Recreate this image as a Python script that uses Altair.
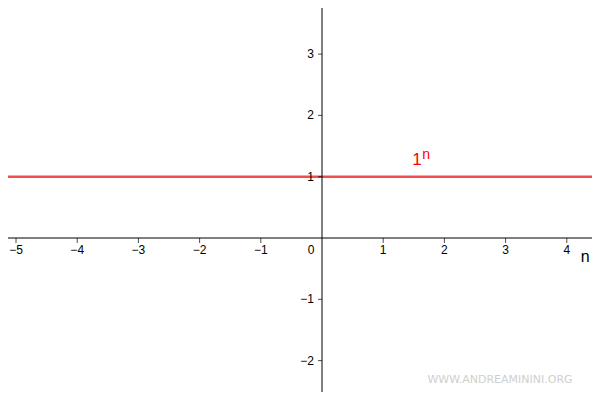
import altair as alt
import pandas as pd

# data
x_ticks = [-5, -4, -3, -2, -1, 1, 2, 3, 4]
y_ticks = [-2, -1, 1, 2, 3]
n_vals = [-6, -5, -4, -3, -2, -1, 0, 1, 2, 3, 4, 5]
f_vals = [1, 1, 1, 1, 1, 1, 1, 1, 1, 1, 1, 1]

x_dom = [-5.131, 4.412]
y_dom = [-2.512, 3.752]

FONT = "Liberation Sans"
xs = alt.Scale(domain=x_dom, nice=False, zero=False)
ys = alt.Scale(domain=y_dom, nice=False, zero=False)

def X(f="x"):
    return alt.X(f"{f}:Q", scale=xs, axis=None)

def Y(f="y"):
    return alt.Y(f"{f}:Q", scale=ys, axis=None)

xt = pd.DataFrame({"x": x_ticks, "y": [0] * len(x_ticks),
                   "lab": [("\u2212" + str(-v)) if v < 0 else str(v) for v in x_ticks]})
yt = pd.DataFrame({"y": y_ticks, "x": [0] * len(y_ticks),
                   "lab": [("\u2212" + str(-v)) if v < 0 else str(v) for v in y_ticks]})
fn = pd.DataFrame({"x": n_vals, "y": f_vals})
origin = pd.DataFrame({"x": [0], "y": [0], "lab": ["0"]})

x_axis = alt.Chart(origin).mark_rule(color="black", strokeWidth=1).encode(y=Y())
y_axis = alt.Chart(origin).mark_rule(color="black", strokeWidth=1).encode(x=X())

x_tk = alt.Chart(xt).mark_tick(orient="vertical", size=5, thickness=1, color="black", yOffset=2.5).encode(x=X(), y=Y())
y_tk = alt.Chart(yt).mark_tick(orient="horizontal", size=4, thickness=1, color="black", xOffset=-2).encode(x=X(), y=Y())

x_lab = alt.Chart(xt).mark_text(font=FONT, fontSize=12, color="black", dy=12, align="center", baseline="middle").encode(x=X(), y=Y(), text="lab:N")
y_lab = alt.Chart(yt).mark_text(font=FONT, fontSize=12, color="black", dx=-8, align="right", baseline="middle").encode(x=X(), y=Y(), text="lab:N")
o_lab = alt.Chart(origin).mark_text(font=FONT, fontSize=12, color="black", dx=-11, dy=12, align="center", baseline="middle").encode(x=X(), y=Y(), text="lab:N")

line = alt.Chart(fn).mark_line(color="#f03a3a", strokeWidth=2.5, opacity=0.9, clip=True).encode(x=X(), y=Y())

lab1 = pd.DataFrame({"x": [1.552], "y": [1.19], "lab": ["1"]})
labn = pd.DataFrame({"x": [1.70], "y": [1.29], "lab": ["n"]})
t1 = alt.Chart(lab1).mark_text(font=FONT, fontSize=17, color="#ff0000", align="center", baseline="alphabetic").encode(x=X(), y=Y(), text="lab:N")
tn = alt.Chart(labn).mark_text(font=FONT, fontSize=14, color="#ff0000", align="center", baseline="alphabetic").encode(x=X(), y=Y(), text="lab:N")

axn = pd.DataFrame({"x": [4.30], "y": [-0.39], "lab": ["n"]})
tax = alt.Chart(axn).mark_text(font=FONT, fontSize=16, color="black", align="center", baseline="alphabetic").encode(x=X(), y=Y(), text="lab:N")

wm = alt.Chart(origin).mark_text(font="DejaVu Sans", fontSize=11, color="#cfcfcf", align="center", baseline="middle", text="WWW.ANDREAMININI.ORG").encode(x=alt.value(492), y=alt.value(372))

chart = alt.layer(line, x_axis, y_axis, x_tk, y_tk, x_lab, y_lab, o_lab, t1, tn, tax, wm).properties(
    width=584, height=384, padding=0,
    autosize=alt.AutoSizeParams(type="none"),
    background="white",
).configure_view(stroke=None)

chart.save("out.html", embed_options={"renderer": "svg", "actions": False})
